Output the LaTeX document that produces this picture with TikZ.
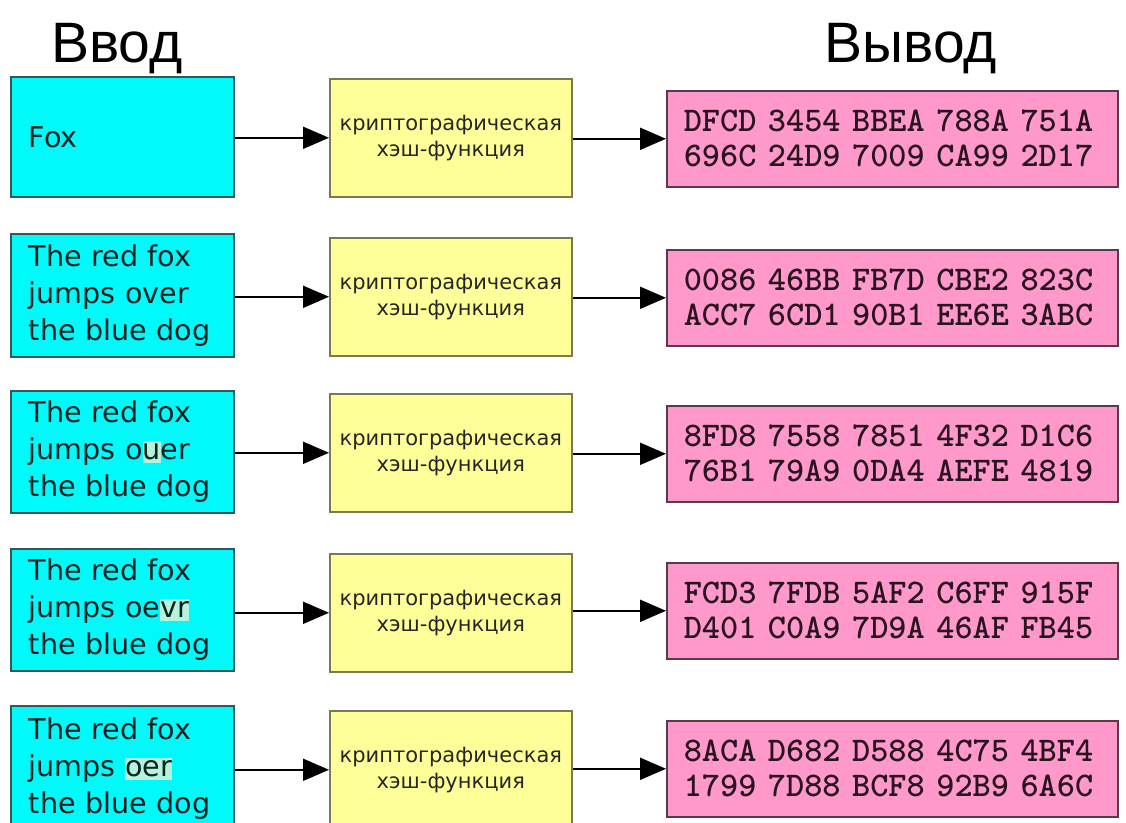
\documentclass[tikz,border=0pt]{standalone}
\usepackage{fontspec}
\setmainfont{Liberation Sans}
\newfontfamily\boxfont{DejaVu Sans}
\usetikzlibrary{arrows.meta}
\definecolor{cyanfill}{HTML}{00FAFA}
\definecolor{cyanedge}{HTML}{2E5A5A}
\definecolor{yelfill}{HTML}{FFFF99}
\definecolor{yeledge}{HTML}{7A7A50}
\definecolor{pinkfill}{HTML}{FF99CC}
\definecolor{pinkedge}{HTML}{5A3A48}
\definecolor{hlcol}{HTML}{B4F4DC}
\definecolor{txtdark}{HTML}{0C2222}
\definecolor{hextxt}{HTML}{2A1420}
\newcommand{\hlt}[1]{{\setlength{\fboxsep}{0pt}\colorbox{hlcol}{\rule[-1.5pt]{0pt}{11pt}#1}}}
\tikzset{
  cbox/.style={draw=cyanedge, fill=cyanfill, line width=0.8pt, anchor=north west,
    minimum width=111.5pt, inner xsep=9pt, text width=93.5pt, align=left,
    font=\boxfont\fontsize{14.3}{18.5}\selectfont, text=txtdark},
  ybox/.style={draw=yeledge, fill=yelfill, line width=0.8pt, anchor=north west,
    minimum width=121pt, minimum height=59pt, align=center, inner sep=0pt,
    font=\boxfont\fontsize{10.5}{12.8}\selectfont, text=black!85},
  pbox/.style={draw=pinkedge, fill=pinkfill, line width=0.8pt, anchor=north west,
    minimum width=225.5pt, minimum height=48pt, inner xsep=8.5pt, text width=208.5pt,
    align=left, font=\ttfamily\bfseries\fontsize{17.3}{17.5}\selectfont, text=hextxt},
  arr/.style={line width=1pt, -{Triangle[length=13pt,width=11pt]}},
  title/.style={font=\fontsize{28.5}{30}\selectfont, anchor=base, text=black}
}
\begin{document}
\begin{tikzpicture}[x=0.5pt,y=-0.5pt]
\useasboundingbox[fill=white] (0,0) rectangle (1126,823);
\node[title] (tin) at (117,63) {Ввод};
\node[title] (tout) at (911,63) {Вывод};
% inputs
\node[cbox, minimum height=60pt] (c1) at (10,76) {Fox};
\node[cbox, minimum height=61.5pt] (c2) at (10,233) {The red fox\\jumps over\\the blue dog};
\node[cbox, minimum height=61pt] (c3) at (10,390) {The red fox\\jumps o\hlt{u}er\\the blue dog};
\node[cbox, minimum height=61pt] (c4) at (10,548) {The red fox\\jumps oe\hlt{vr}\\the blue dog};
\node[cbox, minimum height=63pt] (c5) at (10,705) {The red fox\\jumps \hlt{oer}\\the blue dog};
% hash functions
\foreach \i/\t in {1/78,2/237,3/393,4/553,5/710}{
  \node[ybox] (y\i) at (329,\t) {криптографическая\\хэш-функция};
}
% outputs
\node[pbox] (p1) at (666,90) {DFCD 3454 BBEA 788A 751A\\696C 24D9 7009 CA99 2D17};
\node[pbox] (p2) at (666,249) {0086 46BB FB7D CBE2 823C\\ACC7 6CD1 90B1 EE6E 3ABC};
\node[pbox] (p3) at (666,405) {8FD8 7558 7851 4F32 D1C6\\76B1 79A9 0DA4 AEFE 4819};
\node[pbox] (p4) at (666,562) {FCD3 7FDB 5AF2 C6FF 915F\\D401 C0A9 7D9A 46AF FB45};
\node[pbox] (p5) at (666,720) {8ACA D682 D588 4C75 4BF4\\1799 7D88 BCF8 92B9 6A6C};
% arrows
\foreach \i in {1,...,5}{
  \draw[arr] (c\i.east |- y\i.west) -- (y\i.west);
  \draw[arr] (y\i.east |- p\i.west) -- (p\i.west);
}
\end{tikzpicture}
\end{document}
